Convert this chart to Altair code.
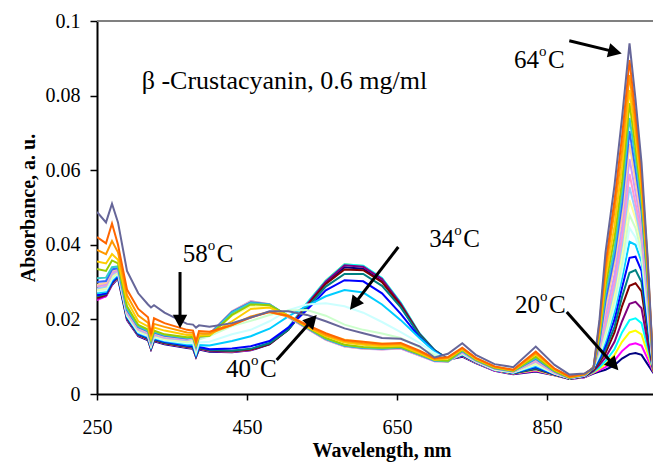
import math
import altair as alt
import pandas as pd

# ---------------- data ----------------
wavelength = [250, 262, 270, 278, 290, 305, 318, 322, 326, 340,
              370, 378, 382, 386, 400, 430, 455, 480, 505, 530,
              555, 580, 605, 630, 655, 680, 700, 718, 737, 755,
              780, 805, 835, 860, 880, 900, 912, 920, 928, 940,
              950, 960, 968, 976, 984, 992]

temperatures = ["20", "22", "24", "26", "28", "30", "32", "34", "36", "38", "40", "42",
                "44", "46", "48", "50", "52", "54", "56", "58", "60", "62", "64"]

line_colors = ["#000080", "#FF00FF", "#FFFF00", "#00FFFF", "#800080", "#800000", "#008080",
               "#0000FF", "#00CCFF", "#CCFFFF", "#CCFFCC", "#FFFF99", "#99CCFF", "#FF99CC",
               "#CC99FF", "#FFCC99", "#3366FF", "#33CCCC", "#99CC00", "#FFCC00", "#FF9900",
               "#FF6600", "#666699"]

abs_20 = [0.0255, 0.0262, 0.0292, 0.0310, 0.0198, 0.0155, 0.0144, 0.0120, 0.0141, 0.0133, 0.0123, 0.0121, 0.0099, 0.0119, 0.0113, 0.0112, 0.0117, 0.0133, 0.0172, 0.0238, 0.0298, 0.0340, 0.0336, 0.0302, 0.0236, 0.0156, 0.0115, 0.0092, 0.0100, 0.0083, 0.0062, 0.0053, 0.0060, 0.0050, 0.0040, 0.0045, 0.0055, 0.0060, 0.0065, 0.0077, 0.0095, 0.0107, 0.0110, 0.0105, 0.0080, 0.0056]
abs_22 = [0.0252, 0.0262, 0.0294, 0.0312, 0.0200, 0.0157, 0.0146, 0.0121, 0.0143, 0.0135, 0.0125, 0.0123, 0.0100, 0.0121, 0.0115, 0.0113, 0.0118, 0.0135, 0.0176, 0.0242, 0.0303, 0.0347, 0.0342, 0.0308, 0.0242, 0.0160, 0.0117, 0.0093, 0.0102, 0.0084, 0.0063, 0.0054, 0.0062, 0.0051, 0.0040, 0.0045, 0.0057, 0.0064, 0.0072, 0.0090, 0.0115, 0.0132, 0.0136, 0.0130, 0.0095, 0.0058]
abs_24 = [0.0260, 0.0266, 0.0296, 0.0313, 0.0202, 0.0158, 0.0147, 0.0122, 0.0144, 0.0136, 0.0126, 0.0124, 0.0101, 0.0122, 0.0116, 0.0114, 0.0119, 0.0136, 0.0177, 0.0243, 0.0304, 0.0348, 0.0343, 0.0310, 0.0244, 0.0162, 0.0118, 0.0093, 0.0103, 0.0085, 0.0064, 0.0055, 0.0064, 0.0051, 0.0041, 0.0046, 0.0058, 0.0068, 0.0080, 0.0105, 0.0140, 0.0165, 0.0170, 0.0160, 0.0110, 0.0060]
abs_26 = [0.0262, 0.0268, 0.0298, 0.0315, 0.0203, 0.0159, 0.0148, 0.0122, 0.0145, 0.0137, 0.0127, 0.0125, 0.0101, 0.0123, 0.0117, 0.0115, 0.0120, 0.0137, 0.0178, 0.0244, 0.0304, 0.0348, 0.0344, 0.0311, 0.0245, 0.0163, 0.0118, 0.0094, 0.0104, 0.0086, 0.0065, 0.0056, 0.0066, 0.0052, 0.0041, 0.0046, 0.0060, 0.0072, 0.0088, 0.0120, 0.0165, 0.0198, 0.0203, 0.0190, 0.0125, 0.0060]
abs_28 = [0.0255, 0.0264, 0.0296, 0.0314, 0.0202, 0.0158, 0.0147, 0.0121, 0.0144, 0.0136, 0.0126, 0.0124, 0.0100, 0.0122, 0.0116, 0.0114, 0.0119, 0.0135, 0.0175, 0.0240, 0.0301, 0.0345, 0.0341, 0.0308, 0.0242, 0.0161, 0.0117, 0.0093, 0.0104, 0.0086, 0.0065, 0.0056, 0.0067, 0.0052, 0.0041, 0.0047, 0.0062, 0.0078, 0.0098, 0.0140, 0.0195, 0.0242, 0.0247, 0.0230, 0.0140, 0.0060]
abs_30 = [0.0258, 0.0266, 0.0297, 0.0314, 0.0203, 0.0159, 0.0148, 0.0123, 0.0145, 0.0137, 0.0127, 0.0125, 0.0102, 0.0123, 0.0117, 0.0115, 0.0119, 0.0134, 0.0172, 0.0236, 0.0295, 0.0334, 0.0332, 0.0300, 0.0238, 0.0160, 0.0117, 0.0093, 0.0104, 0.0086, 0.0065, 0.0056, 0.0068, 0.0052, 0.0041, 0.0047, 0.0064, 0.0085, 0.0110, 0.0165, 0.0235, 0.0290, 0.0297, 0.0275, 0.0165, 0.0060]
abs_32 = [0.0262, 0.0268, 0.0298, 0.0315, 0.0204, 0.0160, 0.0149, 0.0124, 0.0146, 0.0138, 0.0128, 0.0126, 0.0103, 0.0124, 0.0118, 0.0116, 0.0121, 0.0136, 0.0172, 0.0232, 0.0288, 0.0322, 0.0322, 0.0290, 0.0232, 0.0158, 0.0117, 0.0093, 0.0104, 0.0086, 0.0065, 0.0056, 0.0069, 0.0053, 0.0041, 0.0048, 0.0066, 0.0090, 0.0120, 0.0180, 0.0260, 0.0325, 0.0332, 0.0300, 0.0180, 0.0060]
abs_34 = [0.0265, 0.0270, 0.0300, 0.0317, 0.0206, 0.0162, 0.0151, 0.0125, 0.0148, 0.0140, 0.0130, 0.0128, 0.0104, 0.0126, 0.0120, 0.0122, 0.0128, 0.0142, 0.0178, 0.0226, 0.0278, 0.0305, 0.0302, 0.0270, 0.0215, 0.0152, 0.0115, 0.0092, 0.0105, 0.0086, 0.0065, 0.0057, 0.0072, 0.0053, 0.0042, 0.0048, 0.0068, 0.0095, 0.0130, 0.0200, 0.0285, 0.0365, 0.0368, 0.0330, 0.0195, 0.0060]
abs_36 = [0.0270, 0.0274, 0.0304, 0.0320, 0.0208, 0.0164, 0.0153, 0.0126, 0.0150, 0.0142, 0.0133, 0.0132, 0.0106, 0.0131, 0.0130, 0.0142, 0.0155, 0.0175, 0.0208, 0.0236, 0.0262, 0.0279, 0.0272, 0.0240, 0.0198, 0.0150, 0.0114, 0.0091, 0.0106, 0.0087, 0.0065, 0.0057, 0.0075, 0.0054, 0.0042, 0.0049, 0.0070, 0.0100, 0.0140, 0.0220, 0.0310, 0.0408, 0.0400, 0.0355, 0.0210, 0.0060]
abs_38 = [0.0275, 0.0278, 0.0308, 0.0323, 0.0210, 0.0166, 0.0155, 0.0128, 0.0152, 0.0144, 0.0136, 0.0137, 0.0110, 0.0138, 0.0140, 0.0160, 0.0172, 0.0195, 0.0225, 0.0240, 0.0243, 0.0235, 0.0218, 0.0193, 0.0166, 0.0137, 0.0110, 0.0090, 0.0107, 0.0087, 0.0065, 0.0058, 0.0078, 0.0055, 0.0042, 0.0049, 0.0071, 0.0105, 0.0150, 0.0235, 0.0330, 0.0445, 0.0420, 0.0370, 0.0220, 0.0060]
abs_40 = [0.0278, 0.0282, 0.0312, 0.0326, 0.0212, 0.0168, 0.0157, 0.0130, 0.0154, 0.0146, 0.0139, 0.0142, 0.0115, 0.0146, 0.0155, 0.0182, 0.0196, 0.0212, 0.0224, 0.0225, 0.0210, 0.0186, 0.0172, 0.0162, 0.0150, 0.0125, 0.0104, 0.0089, 0.0108, 0.0088, 0.0066, 0.0058, 0.0080, 0.0055, 0.0042, 0.0050, 0.0072, 0.0110, 0.0160, 0.0250, 0.0350, 0.0480, 0.0445, 0.0380, 0.0230, 0.0060]
abs_42 = [0.0280, 0.0285, 0.0316, 0.0328, 0.0214, 0.0170, 0.0159, 0.0132, 0.0156, 0.0148, 0.0142, 0.0146, 0.0120, 0.0151, 0.0160, 0.0210, 0.0235, 0.0232, 0.0210, 0.0185, 0.0160, 0.0146, 0.0140, 0.0136, 0.0133, 0.0114, 0.0096, 0.0088, 0.0110, 0.0088, 0.0067, 0.0059, 0.0083, 0.0056, 0.0042, 0.0050, 0.0072, 0.0115, 0.0170, 0.0270, 0.0380, 0.0520, 0.0470, 0.0400, 0.0240, 0.0060]
abs_44 = [0.0283, 0.0288, 0.0320, 0.0330, 0.0216, 0.0172, 0.0161, 0.0134, 0.0158, 0.0150, 0.0144, 0.0148, 0.0122, 0.0151, 0.0158, 0.0218, 0.0245, 0.0238, 0.0207, 0.0177, 0.0148, 0.0130, 0.0124, 0.0121, 0.0123, 0.0104, 0.0089, 0.0087, 0.0111, 0.0089, 0.0068, 0.0059, 0.0086, 0.0057, 0.0042, 0.0050, 0.0072, 0.0120, 0.0180, 0.0285, 0.0400, 0.0555, 0.0490, 0.0410, 0.0250, 0.0060]
abs_46 = [0.0288, 0.0292, 0.0324, 0.0332, 0.0218, 0.0174, 0.0163, 0.0136, 0.0160, 0.0152, 0.0146, 0.0150, 0.0124, 0.0153, 0.0160, 0.0221, 0.0248, 0.0240, 0.0206, 0.0175, 0.0146, 0.0128, 0.0122, 0.0120, 0.0122, 0.0103, 0.0088, 0.0087, 0.0112, 0.0089, 0.0068, 0.0060, 0.0088, 0.0057, 0.0042, 0.0050, 0.0072, 0.0125, 0.0190, 0.0300, 0.0420, 0.0590, 0.0510, 0.0430, 0.0260, 0.0060]
abs_48 = [0.0290, 0.0295, 0.0327, 0.0334, 0.0220, 0.0175, 0.0164, 0.0137, 0.0161, 0.0153, 0.0147, 0.0151, 0.0125, 0.0154, 0.0161, 0.0222, 0.0249, 0.0241, 0.0206, 0.0175, 0.0145, 0.0127, 0.0121, 0.0119, 0.0122, 0.0103, 0.0088, 0.0087, 0.0113, 0.0090, 0.0068, 0.0060, 0.0090, 0.0058, 0.0042, 0.0050, 0.0072, 0.0130, 0.0210, 0.0320, 0.0450, 0.0630, 0.0540, 0.0450, 0.0270, 0.0060]
abs_50 = [0.0293, 0.0298, 0.0330, 0.0336, 0.0222, 0.0177, 0.0166, 0.0138, 0.0163, 0.0154, 0.0148, 0.0152, 0.0126, 0.0155, 0.0161, 0.0222, 0.0248, 0.0241, 0.0207, 0.0176, 0.0146, 0.0128, 0.0122, 0.0120, 0.0123, 0.0104, 0.0089, 0.0087, 0.0114, 0.0090, 0.0069, 0.0060, 0.0092, 0.0059, 0.0043, 0.0051, 0.0072, 0.0135, 0.0230, 0.0350, 0.0480, 0.0670, 0.0570, 0.0470, 0.0290, 0.0060]
abs_52 = [0.0300, 0.0303, 0.0334, 0.0338, 0.0225, 0.0179, 0.0168, 0.0140, 0.0165, 0.0156, 0.0149, 0.0152, 0.0127, 0.0155, 0.0160, 0.0220, 0.0246, 0.0240, 0.0208, 0.0177, 0.0147, 0.0129, 0.0123, 0.0121, 0.0124, 0.0105, 0.0089, 0.0088, 0.0115, 0.0091, 0.0069, 0.0061, 0.0094, 0.0060, 0.0043, 0.0051, 0.0071, 0.0140, 0.0250, 0.0370, 0.0510, 0.0705, 0.0600, 0.0490, 0.0300, 0.0060]
abs_54 = [0.0310, 0.0312, 0.0340, 0.0342, 0.0228, 0.0181, 0.0170, 0.0142, 0.0167, 0.0158, 0.0150, 0.0152, 0.0128, 0.0154, 0.0158, 0.0218, 0.0244, 0.0240, 0.0209, 0.0178, 0.0148, 0.0130, 0.0124, 0.0122, 0.0125, 0.0106, 0.0090, 0.0088, 0.0116, 0.0091, 0.0070, 0.0061, 0.0097, 0.0061, 0.0044, 0.0052, 0.0070, 0.0150, 0.0270, 0.0390, 0.0540, 0.0740, 0.0630, 0.0510, 0.0310, 0.0060]
abs_56 = [0.0335, 0.0330, 0.0358, 0.0350, 0.0235, 0.0185, 0.0173, 0.0145, 0.0170, 0.0160, 0.0152, 0.0153, 0.0130, 0.0154, 0.0156, 0.0212, 0.0240, 0.0238, 0.0210, 0.0179, 0.0150, 0.0132, 0.0126, 0.0124, 0.0126, 0.0107, 0.0091, 0.0089, 0.0118, 0.0092, 0.0070, 0.0062, 0.0100, 0.0062, 0.0044, 0.0052, 0.0070, 0.0160, 0.0290, 0.0420, 0.0570, 0.0780, 0.0660, 0.0530, 0.0320, 0.0060]
abs_58 = [0.0355, 0.0350, 0.0375, 0.0360, 0.0250, 0.0195, 0.0181, 0.0150, 0.0178, 0.0170, 0.0158, 0.0158, 0.0134, 0.0157, 0.0158, 0.0195, 0.0228, 0.0232, 0.0210, 0.0180, 0.0155, 0.0138, 0.0132, 0.0128, 0.0130, 0.0110, 0.0092, 0.0095, 0.0120, 0.0094, 0.0072, 0.0063, 0.0106, 0.0065, 0.0045, 0.0053, 0.0070, 0.0170, 0.0310, 0.0450, 0.0610, 0.0815, 0.0690, 0.0550, 0.0340, 0.0060]
abs_60 = [0.0386, 0.0375, 0.0410, 0.0380, 0.0265, 0.0210, 0.0191, 0.0155, 0.0188, 0.0180, 0.0165, 0.0164, 0.0138, 0.0163, 0.0162, 0.0185, 0.0208, 0.0220, 0.0208, 0.0182, 0.0158, 0.0142, 0.0136, 0.0132, 0.0134, 0.0113, 0.0094, 0.0097, 0.0122, 0.0096, 0.0073, 0.0064, 0.0110, 0.0067, 0.0046, 0.0053, 0.0070, 0.0180, 0.0330, 0.0490, 0.0650, 0.0855, 0.0720, 0.0570, 0.0350, 0.0060]
abs_62 = [0.0421, 0.0404, 0.0457, 0.0400, 0.0280, 0.0228, 0.0206, 0.0160, 0.0203, 0.0190, 0.0172, 0.0170, 0.0140, 0.0169, 0.0167, 0.0185, 0.0205, 0.0220, 0.0210, 0.0185, 0.0163, 0.0145, 0.0140, 0.0135, 0.0137, 0.0116, 0.0096, 0.0099, 0.0124, 0.0097, 0.0074, 0.0065, 0.0114, 0.0068, 0.0047, 0.0054, 0.0070, 0.0190, 0.0350, 0.0520, 0.0690, 0.0895, 0.0750, 0.0590, 0.0360, 0.0060]
abs_64 = [0.0488, 0.0460, 0.0510, 0.0460, 0.0330, 0.0270, 0.0240, 0.0232, 0.0238, 0.0218, 0.0188, 0.0186, 0.0178, 0.0184, 0.0180, 0.0190, 0.0205, 0.0222, 0.0222, 0.0212, 0.0195, 0.0176, 0.0163, 0.0150, 0.0148, 0.0128, 0.0098, 0.0108, 0.0136, 0.0105, 0.0080, 0.0072, 0.0127, 0.0078, 0.0052, 0.0055, 0.0070, 0.0200, 0.0380, 0.0560, 0.0740, 0.0940, 0.0790, 0.0620, 0.0370, 0.0060]

series = [abs_20, abs_22, abs_24, abs_26, abs_28, abs_30, abs_32, abs_34, abs_36, abs_38,
          abs_40, abs_42, abs_44, abs_46, abs_48, abs_50, abs_52, abs_54, abs_56, abs_58,
          abs_60, abs_62, abs_64]

x_ticks = [250, 450, 650, 850]
y_ticks = [0, 0.02, 0.04, 0.06, 0.08, 0.1]

# annotations (data coordinates)
title_text = "β -Crustacyanin, 0.6 mg/ml"
title_pos = (309.6, 0.0819)
label_nums = ["64", "58", "40", "34", "20"]
label_wl = [806.0, 364.3, 422.0, 693.1, 807.3]
label_ab = [0.0873, 0.0353, 0.00448, 0.0393, 0.0216]
arrow_start = [(879.7, 0.0947), (360.7, 0.0327), (489.6, 0.0091), (651.7, 0.0394), (876.3, 0.0220)]
arrow_tip = [(949.6, 0.0913), (360.7, 0.0176), (542.9, 0.0212), (587.3, 0.0226), (945.1, 0.0064)]

# ---------------- layout ----------------
X_MIN, X_MAX = 250, 991.3
Y_MIN, Y_MAX = 0.0, 0.1
PLOT_W, PLOT_H = 556, 373
FONT = "Liberation Serif"

rows = []
for t, vals in zip(temperatures, series):
    for w, v in zip(wavelength, vals):
        rows.append({"wavelength": w, "absorbance": v, "temp": t})
df = pd.DataFrame(rows)

def to_px(wl, ab):
    return ((wl - X_MIN) / (X_MAX - X_MIN) * PLOT_W, (1 - (ab - Y_MIN) / (Y_MAX - Y_MIN)) * PLOT_H)

def to_data(px, py):
    return (X_MIN + px / PLOT_W * (X_MAX - X_MIN), Y_MIN + (1 - py / PLOT_H) * (Y_MAX - Y_MIN))

HEAD_UNIT = 8
arrow_rows = []
for (sw, sa), (tw, ta) in zip(arrow_start, arrow_tip):
    sx, sy = to_px(sw, sa)
    tx, ty = to_px(tw, ta)
    dx, dy = tx - sx, ty - sy
    L = math.hypot(dx, dy)
    ux, uy = dx / L, dy / L
    ex, ey = to_data(tx - ux * 9, ty - uy * 9)
    hx, hy = to_data(tx - ux * HEAD_UNIT, ty - uy * HEAD_UNIT)
    ang = math.degrees(math.atan2(ux, -uy)) % 360
    arrow_rows.append({"x1": sw, "y1": sa, "x2": ex, "y2": ey, "hx": hx, "hy": hy, "ang": ang})
arrows = pd.DataFrame(arrow_rows)

xscale = alt.Scale(domain=[X_MIN, X_MAX], nice=False, zero=False)
yscale = alt.Scale(domain=[Y_MIN, Y_MAX], nice=False, zero=False)

lines = alt.Chart(df).mark_line(strokeWidth=2, clip=True).encode(
    x=alt.X("wavelength:Q", scale=xscale,
            axis=alt.Axis(values=x_ticks, title="Wavelength, nm", grid=False,
                          tickSize=6, tickColor="black", tickWidth=1.5,
                          domainColor="black", domainWidth=2,
                          labelFont=FONT, labelFontSize=20, labelColor="black",
                          labelPadding=17, labelFlush=False,
                          titleFont=FONT, titleFontSize=20, titleFontWeight="bold",
                          titleColor="black", titleX=284.5, titleY=62,
                          titleAlign="center", titleBaseline="alphabetic")),
    y=alt.Y("absorbance:Q", scale=yscale,
            axis=alt.Axis(values=y_ticks, format="~g", title="Absorbance, a. u.", grid=False,
                          tickSize=7, tickColor="black", tickWidth=1.5,
                          domainColor="black", domainWidth=2,
                          labelFont=FONT, labelFontSize=20, labelColor="black",
                          labelPadding=10, labelFlush=False,
                          titleFont=FONT, titleFontSize=20, titleFontWeight="bold",
                          titleColor="black", titleX=-63, titleY=186.5, titleAngle=270,
                          titleAlign="center", titleBaseline="alphabetic")),
    color=alt.Color("temp:N", scale=alt.Scale(domain=temperatures, range=line_colors), legend=None),
)

top_line = alt.Chart(pd.DataFrame({"y": [Y_MAX]})).mark_rule(color="#808080", strokeWidth=2).encode(
    y=alt.Y("y:Q", scale=yscale)
)

title_df = pd.DataFrame({"wl": [title_pos[0]], "ab": [title_pos[1]], "t": [title_text]})
title_layer = alt.Chart(title_df).mark_text(align="left", baseline="alphabetic", font=FONT,
                                            fontSize=26, color="black").encode(
    x=alt.X("wl:Q", scale=xscale), y=alt.Y("ab:Q", scale=yscale), text="t:N")

lab_df = pd.DataFrame({"wl": label_wl, "ab": label_ab, "num": label_nums})
num_layer = alt.Chart(lab_df).mark_text(align="left", baseline="alphabetic", font=FONT,
                                        fontSize=25, color="black").encode(
    x=alt.X("wl:Q", scale=xscale), y=alt.Y("ab:Q", scale=yscale), text="num:N")
deg_layer = alt.Chart(lab_df).mark_text(align="left", baseline="alphabetic", font=FONT,
                                        fontSize=15, color="black", dx=25, dy=-12).encode(
    x=alt.X("wl:Q", scale=xscale), y=alt.Y("ab:Q", scale=yscale), text=alt.value("o"))
c_layer = alt.Chart(lab_df).mark_text(align="left", baseline="alphabetic", font=FONT,
                                      fontSize=25, color="black", dx=34).encode(
    x=alt.X("wl:Q", scale=xscale), y=alt.Y("ab:Q", scale=yscale), text=alt.value("C"))

arrow_lines = alt.Chart(arrows).mark_rule(color="black", strokeWidth=3).encode(
    x=alt.X("x1:Q", scale=xscale), y=alt.Y("y1:Q", scale=yscale), x2="x2:Q", y2="y2:Q")
arrow_heads = alt.Chart(arrows).mark_point(shape="M0,-1L0.9,0.7L-0.9,0.7Z", filled=True,
                                           size=(2 * HEAD_UNIT) ** 2, color="black",
                                           opacity=1, strokeWidth=0).encode(
    x=alt.X("hx:Q", scale=xscale), y=alt.Y("hy:Q", scale=yscale),
    angle=alt.Angle("ang:Q", scale=None))

chart = alt.layer(lines, top_line, title_layer, num_layer, deg_layer, c_layer,
                  arrow_lines, arrow_heads).properties(
    width=PLOT_W, height=PLOT_H,
    padding={"left": 97, "top": 21, "right": 0, "bottom": 69},
    autosize=alt.AutoSizeParams(type="none"),
    background="white",
).configure_view(stroke=None)

chart.save("out.html", embed_options={"renderer": "svg", "actions": False})
